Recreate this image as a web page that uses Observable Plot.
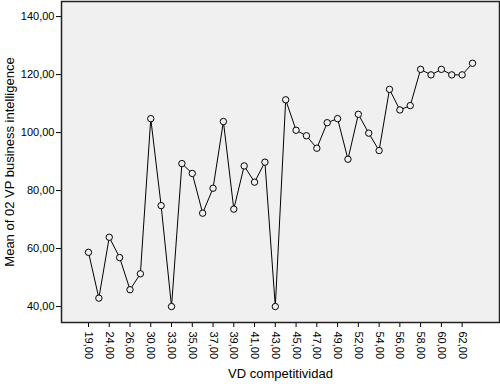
<!DOCTYPE html>
<html>
<head>
<meta charset="utf-8">
<script src="https://cdn.jsdelivr.net/npm/d3@7"></script>
<script src="https://cdn.jsdelivr.net/npm/@observablehq/plot@0.6"></script>
<style>
  html, body { margin: 0; padding: 0; background: #ffffff; }
  svg { font-family: "Liberation Sans", Arial, Helvetica, sans-serif; }
</style>
</head>
<body>
<div id="chart"></div>
<script>
// Categories of "VD competitividad" (unlabelled intermediate categories are estimated)
const categories = [19, 23, 24, 25, 26, 28, 30, 31, 33, 34, 35, 36, 37, 38, 39, 40, 41, 42, 43,
                    44, 45, 46, 47, 48, 49, 51, 52, 53, 54, 55, 56, 57, 58, 59, 60, 61, 62, 63];
// Mean of 02 VP business intelligence
const means = [58.7, 42.9, 63.9, 56.9, 45.8, 51.3, 104.8, 74.8, 40.0, 89.3, 85.9, 72.2, 80.8, 103.8, 73.6, 88.5, 82.9, 89.8, 40.0,
               111.3, 100.8, 98.9, 94.6, 103.4, 104.8, 90.8, 106.3, 99.8, 93.8, 114.9, 107.8, 109.3, 121.8, 119.9, 121.8, 119.9, 119.9, 123.9];
// Labelled x ticks
const xTickLabels = [19, 24, 26, 30, 33, 35, 37, 39, 41, 43, 45, 47, 49, 52, 54, 56, 58, 60, 62];
const yTicks = [40, 60, 80, 100, 120, 140];

const data = categories.map((c, i) => ({cat: c, mean: means[i]}));
const fmt = v => v.toFixed(2).replace(".", ",");

const chart = Plot.plot({
  width: 500,
  height: 384,
  marginLeft: 61,
  marginRight: 1,
  marginTop: 1,
  marginBottom: 62,
  style: {fontFamily: "Liberation Sans, Arial, sans-serif", fontSize: "11px", color: "#000", background: "#fff"},
  x: {type: "point", domain: categories, padding: 2.6, round: false},
  y: {domain: [34.5, 145.2]},
  marks: [
    Plot.frame({fill: "#f0f0f0", stroke: "none"}),
    Plot.axisY({ticks: yTicks, tickFormat: fmt, tickSize: 5, tickPadding: 2, label: "Mean of 02 VP business intelligence",
      labelAnchor: "center", labelOffset: 57, labelArrow: "none", fontSize: 11}),
    Plot.axisX({ticks: xTickLabels, tickFormat: fmt, tickSize: 5, tickPadding: 4, tickRotate: 90,
      label: "VD competitividad", labelAnchor: "center", labelOffset: 55, labelArrow: "none", fontSize: 11}),
    Plot.line(data, {x: "cat", y: "mean", stroke: "#000", strokeWidth: 1}),
    Plot.dot(data, {x: "cat", y: "mean", r: 3.2, stroke: "#000", fill: "#f0f0f0", strokeWidth: 1}),
    Plot.frame({stroke: "#222", strokeWidth: 1.5})
  ]
});
document.getElementById("chart").appendChild(chart);
// enlarge axis titles
d3.select(chart).selectAll("g[aria-label='y-axis label'] text, g[aria-label='x-axis label'] text").style("font-size", "13px");
</script>
</body>
</html>
